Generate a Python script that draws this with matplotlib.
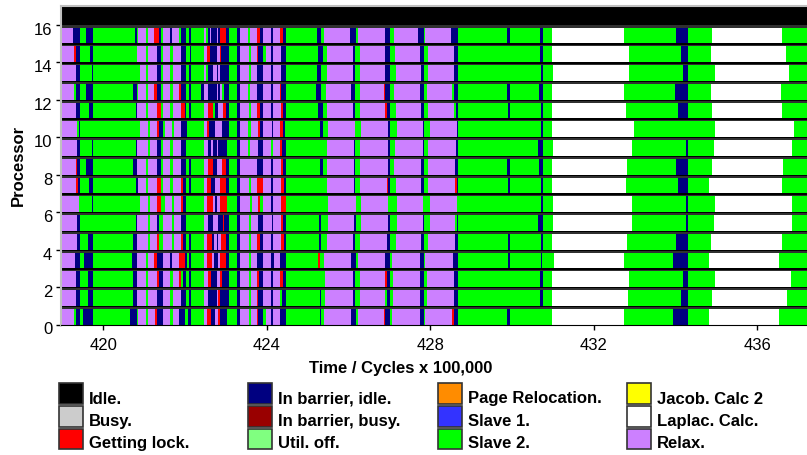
import matplotlib
matplotlib.use('Agg')
import matplotlib.pyplot as plt
import matplotlib.transforms as mtransforms
from matplotlib.patches import Rectangle

plt.rcParams['font.family'] = ['Liberation Sans', 'DejaVu Sans']

# time window (cycles x 100,000)
X_START = 418.95
X_END = 437.22

# state codes: R relax, B in barrier idle, S slave 2, L getting lock, W laplac calc, I idle
# each processor row = list of (start time, state); a state lasts until the next start
proc_15 = [(418.95,'R'),(419.25,'B'),(419.43,'S'),(419.57,'B'),(419.75,'S'),(420.78,'B'),(420.83,'S'),(420.85,'R'),(421.05,'S'),(421.10,'R'),(421.25,'L'),(421.37,'B'),(421.42,'S'),(421.45,'R'),(421.62,'B'),(421.67,'R'),(421.86,'S'),(421.89,'B'),(422.03,'S'),(422.10,'B'),(422.15,'S'),(422.47,'R'),(422.52,'S'),(422.57,'B'),(422.62,'R'),(422.64,'B'),(422.77,'R'),(422.81,'B'),(422.86,'L'),(423.00,'B'),(423.08,'S'),(423.27,'B'),(423.35,'R'),(423.54,'S'),(423.59,'R'),(423.77,'L'),(423.84,'B'),(423.91,'R'),(424.10,'B'),(424.15,'R'),(424.32,'L'),(424.39,'B'),(424.47,'S'),(425.23,'B'),(425.33,'S'),(425.41,'R'),(426.04,'B'),(426.19,'S'),(426.24,'R'),(426.88,'B'),(427.02,'S'),(427.10,'R'),(427.70,'B'),(427.85,'S'),(427.87,'R'),(428.51,'B'),(428.69,'S'),(429.88,'B'),(429.95,'S'),(430.69,'B'),(430.76,'S'),(430.98,'W'),(432.75,'S'),(434.02,'B'),(434.31,'S'),(434.89,'W'),(436.62,'S')]
proc_14 = [(418.95,'R'),(419.28,'L'),(419.33,'B'),(419.43,'S'),(419.67,'B'),(419.75,'S'),(420.83,'R'),(421.05,'S'),(421.10,'R'),(421.30,'B'),(421.42,'S'),(421.45,'R'),(421.64,'S'),(421.70,'R'),(421.89,'B'),(422.03,'S'),(422.12,'B'),(422.15,'S'),(422.47,'R'),(422.54,'L'),(422.62,'B'),(422.77,'R'),(422.86,'L'),(422.89,'B'),(423.08,'S'),(423.27,'B'),(423.35,'R'),(423.56,'S'),(423.61,'R'),(423.77,'L'),(423.79,'B'),(423.91,'S'),(423.99,'R'),(424.10,'B'),(424.15,'R'),(424.35,'B'),(424.47,'S'),(425.26,'B'),(425.38,'S'),(425.48,'R'),(426.11,'B'),(426.16,'S'),(426.28,'R'),(426.90,'B'),(427.02,'S'),(427.14,'R'),(427.75,'B'),(427.85,'S'),(427.95,'R'),(428.59,'B'),(428.69,'S'),(430.69,'B'),(430.76,'S'),(430.98,'W'),(432.87,'S'),(434.14,'B'),(434.31,'S'),(434.87,'W'),(436.71,'S')]
proc_13 = [(418.95,'R'),(419.33,'B'),(419.43,'S'),(419.72,'B'),(419.75,'S'),(420.90,'R'),(421.05,'S'),(421.10,'R'),(421.30,'B'),(421.42,'S'),(421.45,'R'),(421.64,'S'),(421.70,'R'),(421.89,'B'),(422.03,'S'),(422.10,'B'),(422.15,'S'),(422.47,'R'),(422.52,'S'),(422.57,'B'),(422.69,'R'),(422.77,'B'),(422.81,'R'),(422.86,'B'),(423.08,'S'),(423.27,'B'),(423.35,'R'),(423.56,'S'),(423.61,'R'),(423.77,'B'),(423.91,'R'),(424.10,'B'),(424.15,'R'),(424.35,'B'),(424.47,'S'),(425.23,'B'),(425.33,'S'),(425.48,'R'),(426.11,'B'),(426.16,'S'),(426.28,'R'),(426.90,'B'),(427.02,'S'),(427.17,'R'),(427.77,'B'),(427.85,'S'),(427.95,'R'),(428.59,'B'),(428.69,'S'),(430.71,'B'),(430.76,'S'),(431.01,'W'),(432.87,'S'),(434.18,'B'),(434.31,'S'),(434.96,'W'),(436.79,'S')]
proc_12 = [(418.95,'R'),(419.28,'S'),(419.33,'B'),(419.43,'S'),(419.57,'B'),(419.75,'S'),(420.73,'B'),(420.83,'S'),(420.85,'R'),(421.05,'S'),(421.10,'R'),(421.25,'L'),(421.30,'B'),(421.42,'S'),(421.45,'R'),(421.64,'S'),(421.70,'R'),(421.86,'L'),(421.89,'B'),(422.03,'S'),(422.10,'B'),(422.15,'S'),(422.39,'B'),(422.47,'R'),(422.57,'B'),(422.77,'R'),(422.81,'B'),(422.86,'R'),(422.91,'S'),(422.96,'B'),(423.08,'S'),(423.27,'B'),(423.35,'R'),(423.54,'S'),(423.59,'R'),(423.77,'B'),(423.91,'R'),(424.10,'B'),(424.15,'R'),(424.32,'L'),(424.35,'B'),(424.47,'S'),(425.21,'B'),(425.33,'S'),(425.46,'R'),(426.06,'B'),(426.16,'S'),(426.28,'R'),(426.87,'L'),(426.90,'B'),(427.02,'S'),(427.12,'R'),(427.75,'B'),(427.85,'S'),(427.92,'R'),(428.54,'S'),(428.59,'B'),(428.69,'S'),(429.88,'B'),(429.95,'S'),(430.66,'B'),(430.76,'S'),(430.98,'W'),(432.75,'S'),(433.99,'B'),(434.31,'S'),(434.87,'W'),(436.59,'S')]
proc_11 = [(418.95,'R'),(419.33,'B'),(419.43,'S'),(419.65,'B'),(419.75,'S'),(420.81,'B'),(420.83,'R'),(421.05,'S'),(421.10,'R'),(421.30,'L'),(421.40,'B'),(421.42,'S'),(421.45,'R'),(421.64,'S'),(421.70,'R'),(421.89,'L'),(421.99,'B'),(422.03,'S'),(422.10,'B'),(422.15,'S'),(422.47,'R'),(422.57,'L'),(422.69,'S'),(422.74,'B'),(422.81,'R'),(422.93,'L'),(423.00,'B'),(423.08,'S'),(423.27,'B'),(423.35,'R'),(423.56,'S'),(423.61,'R'),(423.77,'L'),(423.84,'B'),(423.91,'R'),(424.10,'B'),(424.15,'R'),(424.35,'L'),(424.40,'B'),(424.47,'S'),(425.26,'B'),(425.38,'S'),(425.48,'R'),(426.11,'B'),(426.16,'S'),(426.28,'R'),(426.90,'L'),(426.95,'B'),(427.02,'S'),(427.17,'R'),(427.77,'B'),(427.85,'S'),(427.95,'R'),(428.59,'S'),(428.64,'B'),(428.69,'S'),(429.91,'B'),(429.95,'S'),(430.71,'B'),(430.76,'S'),(430.98,'W'),(432.79,'S'),(434.06,'B'),(434.31,'S'),(434.89,'W'),(436.62,'S')]
proc_10 = [(418.95,'R'),(419.35,'S'),(419.40,'B'),(419.43,'S'),(420.90,'R'),(421.08,'S'),(421.15,'R'),(421.30,'L'),(421.37,'B'),(421.45,'S'),(421.50,'R'),(421.67,'S'),(421.72,'R'),(421.91,'B'),(422.05,'S'),(422.47,'R'),(422.54,'L'),(422.59,'B'),(422.74,'R'),(422.91,'B'),(423.08,'S'),(423.27,'B'),(423.35,'R'),(423.54,'S'),(423.61,'R'),(423.79,'L'),(423.84,'B'),(423.91,'R'),(424.12,'B'),(424.15,'R'),(424.32,'L'),(424.40,'B'),(424.44,'S'),(425.31,'B'),(425.38,'S'),(425.50,'R'),(426.16,'S'),(426.31,'R'),(426.97,'B'),(427.02,'S'),(427.19,'R'),(427.82,'B'),(427.85,'S'),(428.00,'R'),(428.66,'B'),(428.69,'S'),(430.71,'B'),(430.76,'S'),(430.98,'W'),(432.99,'S'),(434.96,'W'),(436.90,'S')]
proc_9 = [(418.95,'R'),(419.35,'B'),(419.43,'S'),(419.72,'B'),(419.75,'S'),(420.81,'B'),(420.83,'R'),(421.08,'S'),(421.15,'R'),(421.30,'B'),(421.42,'S'),(421.45,'R'),(421.64,'S'),(421.70,'R'),(421.89,'B'),(422.03,'S'),(422.47,'R'),(422.57,'B'),(422.64,'R'),(422.69,'B'),(422.77,'R'),(422.81,'B'),(423.03,'S'),(423.27,'B'),(423.35,'R'),(423.54,'S'),(423.59,'R'),(423.79,'B'),(423.91,'R'),(424.10,'S'),(424.15,'R'),(424.32,'L'),(424.37,'B'),(424.47,'S'),(425.48,'R'),(426.13,'B'),(426.16,'S'),(426.28,'R'),(426.97,'B'),(427.02,'S'),(427.14,'R'),(427.82,'B'),(427.85,'S'),(427.95,'R'),(428.64,'B'),(428.69,'S'),(430.64,'B'),(430.76,'S'),(431.01,'W'),(432.94,'S'),(434.26,'B'),(434.31,'S'),(434.94,'W'),(436.86,'S')]
proc_8 = [(418.95,'R'),(419.33,'L'),(419.35,'B'),(419.43,'S'),(419.57,'B'),(419.75,'S'),(420.73,'B'),(420.83,'R'),(421.05,'S'),(421.10,'R'),(421.30,'B'),(421.42,'S'),(421.45,'R'),(421.64,'S'),(421.70,'R'),(421.89,'B'),(422.03,'S'),(422.10,'B'),(422.15,'S'),(422.47,'R'),(422.57,'L'),(422.69,'B'),(422.77,'R'),(422.91,'L'),(423.00,'B'),(423.08,'S'),(423.27,'B'),(423.35,'R'),(423.77,'B'),(423.91,'R'),(424.10,'B'),(424.15,'R'),(424.35,'L'),(424.40,'B'),(424.47,'S'),(425.31,'B'),(425.38,'S'),(425.48,'R'),(426.13,'B'),(426.16,'S'),(426.28,'R'),(426.97,'B'),(427.02,'S'),(427.12,'R'),(427.77,'B'),(427.85,'S'),(427.95,'R'),(428.61,'B'),(428.69,'S'),(429.88,'B'),(429.95,'S'),(430.66,'B'),(430.76,'S'),(430.98,'W'),(432.81,'S'),(434.02,'B'),(434.31,'S'),(434.89,'W'),(436.64,'S')]
proc_7 = [(418.95,'R'),(419.33,'L'),(419.38,'B'),(419.43,'S'),(419.65,'B'),(419.75,'S'),(420.81,'B'),(420.85,'R'),(421.05,'S'),(421.10,'R'),(421.30,'L'),(421.40,'B'),(421.42,'S'),(421.45,'R'),(421.64,'S'),(421.70,'R'),(421.89,'L'),(421.96,'B'),(422.03,'S'),(422.10,'B'),(422.15,'S'),(422.47,'R'),(422.54,'L'),(422.64,'B'),(422.74,'R'),(422.86,'L'),(423.00,'B'),(423.08,'S'),(423.27,'B'),(423.35,'R'),(423.56,'S'),(423.61,'R'),(423.77,'L'),(423.91,'R'),(424.10,'B'),(424.15,'R'),(424.35,'L'),(424.42,'B'),(424.47,'S'),(425.48,'R'),(426.13,'B'),(426.16,'S'),(426.28,'R'),(426.95,'L'),(426.97,'B'),(427.02,'S'),(427.17,'R'),(427.77,'B'),(427.85,'S'),(427.95,'R'),(428.61,'L'),(428.66,'B'),(428.69,'S'),(429.91,'B'),(429.95,'S'),(430.71,'B'),(430.76,'S'),(430.98,'W'),(432.79,'S'),(434.06,'B'),(434.31,'S'),(434.82,'W'),(436.62,'S')]
proc_6 = [(418.95,'R'),(419.40,'S'),(419.72,'B'),(419.75,'S'),(420.90,'R'),(421.08,'S'),(421.15,'R'),(421.30,'L'),(421.40,'S'),(421.50,'R'),(421.67,'S'),(421.72,'R'),(421.89,'L'),(421.96,'B'),(422.03,'S'),(422.47,'R'),(422.54,'L'),(422.69,'R'),(422.74,'B'),(422.77,'R'),(422.86,'L'),(423.03,'S'),(423.27,'B'),(423.35,'R'),(423.59,'S'),(423.64,'R'),(423.79,'L'),(423.84,'S'),(423.91,'R'),(424.10,'B'),(424.15,'R'),(424.35,'L'),(424.47,'S'),(425.50,'R'),(426.18,'S'),(426.31,'R'),(426.97,'S'),(427.19,'R'),(427.82,'S'),(428.00,'R'),(428.66,'S'),(430.71,'B'),(430.76,'S'),(431.01,'W'),(432.94,'S'),(434.26,'B'),(434.31,'S'),(434.96,'W'),(436.86,'S')]
proc_5 = [(418.95,'R'),(419.35,'B'),(419.43,'S'),(420.81,'B'),(420.83,'R'),(421.08,'S'),(421.15,'R'),(421.30,'B'),(421.37,'S'),(421.45,'R'),(421.67,'S'),(421.72,'R'),(421.91,'B'),(422.03,'S'),(422.47,'R'),(422.57,'B'),(422.69,'R'),(422.81,'B'),(422.93,'L'),(422.96,'B'),(423.08,'S'),(423.27,'B'),(423.35,'R'),(423.56,'S'),(423.61,'R'),(423.79,'B'),(423.91,'R'),(424.12,'B'),(424.15,'R'),(424.35,'L'),(424.40,'B'),(424.47,'S'),(425.28,'B'),(425.33,'S'),(425.50,'R'),(426.13,'B'),(426.18,'S'),(426.31,'R'),(426.97,'B'),(427.02,'S'),(427.19,'R'),(427.82,'B'),(427.85,'S'),(428.00,'R'),(428.61,'S'),(428.66,'B'),(428.69,'S'),(430.64,'B'),(430.76,'S'),(431.01,'W'),(432.94,'S'),(434.26,'B'),(434.31,'S'),(434.94,'W'),(436.86,'S')]
proc_4 = [(418.95,'R'),(419.35,'B'),(419.43,'S'),(419.62,'B'),(419.75,'S'),(420.73,'B'),(420.83,'R'),(421.08,'S'),(421.15,'R'),(421.30,'L'),(421.37,'S'),(421.45,'R'),(421.67,'S'),(421.72,'R'),(421.89,'L'),(421.96,'B'),(422.03,'S'),(422.10,'B'),(422.15,'S'),(422.47,'R'),(422.54,'L'),(422.66,'B'),(422.71,'R'),(422.77,'B'),(422.81,'R'),(422.89,'L'),(423.00,'B'),(423.08,'S'),(423.27,'B'),(423.35,'R'),(423.56,'S'),(423.61,'R'),(423.77,'L'),(423.84,'B'),(423.91,'R'),(424.10,'B'),(424.15,'R'),(424.35,'L'),(424.42,'B'),(424.47,'S'),(425.28,'B'),(425.33,'S'),(425.48,'R'),(426.11,'B'),(426.16,'S'),(426.28,'R'),(426.95,'B'),(427.02,'S'),(427.17,'R'),(427.77,'B'),(427.85,'S'),(427.95,'R'),(428.61,'B'),(428.69,'S'),(429.91,'B'),(429.95,'S'),(430.71,'B'),(430.76,'S'),(430.98,'W'),(432.81,'S'),(434.02,'B'),(434.31,'S'),(434.87,'W'),(436.62,'S')]
proc_3 = [(418.95,'R'),(419.30,'B'),(419.43,'S'),(419.52,'B'),(419.75,'S'),(420.71,'B'),(420.83,'R'),(421.05,'S'),(421.10,'R'),(421.25,'L'),(421.30,'B'),(421.45,'R'),(421.64,'B'),(421.67,'R'),(421.86,'L'),(422.00,'B'),(422.05,'S'),(422.10,'B'),(422.15,'S'),(422.47,'R'),(422.54,'L'),(422.66,'R'),(422.71,'B'),(422.81,'R'),(422.86,'L'),(423.00,'B'),(423.08,'S'),(423.27,'B'),(423.35,'R'),(423.56,'S'),(423.61,'R'),(423.77,'B'),(423.91,'R'),(424.10,'B'),(424.17,'R'),(424.32,'B'),(424.47,'S'),(425.26,'L'),(425.31,'S'),(425.41,'R'),(426.06,'B'),(426.18,'S'),(426.23,'R'),(426.90,'B'),(427.02,'S'),(427.07,'R'),(427.75,'B'),(427.85,'S'),(427.87,'R'),(428.56,'B'),(428.69,'S'),(429.91,'B'),(429.95,'S'),(430.71,'B'),(430.74,'S'),(431.03,'W'),(432.75,'S'),(433.94,'B'),(434.31,'S'),(434.82,'W'),(436.54,'S')]
proc_2 = [(418.95,'R'),(419.33,'B'),(419.43,'S'),(419.62,'B'),(419.75,'S'),(420.73,'B'),(420.83,'R'),(421.05,'S'),(421.10,'R'),(421.30,'L'),(421.37,'B'),(421.45,'R'),(421.64,'S'),(421.70,'R'),(421.86,'L'),(421.91,'S'),(421.96,'B'),(422.03,'S'),(422.10,'B'),(422.15,'S'),(422.47,'R'),(422.57,'L'),(422.64,'B'),(422.77,'R'),(422.86,'L'),(422.91,'B'),(423.08,'S'),(423.27,'B'),(423.35,'R'),(423.56,'S'),(423.61,'R'),(423.77,'L'),(423.82,'B'),(423.91,'R'),(424.10,'B'),(424.15,'R'),(424.32,'L'),(424.40,'B'),(424.47,'S'),(425.43,'R'),(426.11,'B'),(426.16,'S'),(426.28,'R'),(426.90,'L'),(426.95,'B'),(427.02,'S'),(427.09,'R'),(427.75,'B'),(427.85,'S'),(427.92,'R'),(428.59,'B'),(428.69,'S'),(430.69,'B'),(430.76,'S'),(430.98,'W'),(432.87,'S'),(434.18,'B'),(434.31,'S'),(434.96,'W'),(436.84,'S')]
proc_1 = [(418.95,'R'),(419.33,'B'),(419.43,'S'),(419.62,'B'),(419.75,'S'),(420.73,'B'),(420.83,'R'),(421.05,'S'),(421.10,'R'),(421.30,'B'),(421.45,'R'),(421.64,'S'),(421.70,'R'),(421.89,'B'),(422.03,'S'),(422.10,'B'),(422.15,'S'),(422.47,'R'),(422.57,'B'),(422.77,'R'),(422.81,'L'),(422.86,'B'),(423.08,'S'),(423.27,'B'),(423.35,'R'),(423.56,'S'),(423.61,'R'),(423.77,'L'),(423.79,'B'),(423.91,'R'),(424.10,'B'),(424.15,'R'),(424.32,'S'),(424.37,'B'),(424.47,'S'),(425.31,'B'),(425.33,'S'),(425.43,'R'),(426.11,'B'),(426.16,'S'),(426.28,'R'),(426.90,'S'),(426.95,'B'),(427.02,'S'),(427.09,'R'),(427.75,'B'),(427.85,'S'),(427.92,'R'),(428.59,'B'),(428.69,'S'),(430.69,'B'),(430.76,'S'),(430.98,'W'),(432.84,'S'),(434.14,'B'),(434.31,'S'),(434.89,'W'),(436.73,'S')]
proc_0 = [(418.95,'R'),(419.28,'S'),(419.33,'B'),(419.43,'S'),(419.50,'B'),(419.75,'S'),(420.66,'B'),(420.83,'S'),(420.85,'R'),(421.05,'S'),(421.10,'R'),(421.27,'L'),(421.32,'B'),(421.45,'R'),(421.64,'S'),(421.70,'R'),(421.86,'B'),(422.00,'S'),(422.07,'B'),(422.15,'S'),(422.47,'R'),(422.54,'L'),(422.64,'B'),(422.74,'R'),(422.81,'L'),(422.86,'B'),(423.03,'S'),(423.27,'B'),(423.35,'R'),(423.56,'S'),(423.61,'R'),(423.77,'L'),(423.79,'B'),(423.91,'S'),(423.99,'R'),(424.10,'B'),(424.15,'R'),(424.32,'B'),(424.47,'S'),(425.31,'B'),(425.33,'S'),(425.41,'R'),(426.06,'B'),(426.18,'S'),(426.23,'R'),(426.87,'L'),(426.90,'B'),(427.02,'S'),(427.07,'R'),(427.75,'B'),(427.85,'S'),(427.87,'R'),(428.54,'L'),(428.59,'B'),(428.69,'S'),(429.88,'B'),(429.95,'S'),(430.98,'W'),(432.75,'S'),(433.94,'B'),(434.31,'S'),(434.82,'W'),(436.54,'S')]
proc_16 = [(418.95,'I')]

processors = [proc_0, proc_1, proc_2, proc_3, proc_4, proc_5, proc_6, proc_7,
              proc_8, proc_9, proc_10, proc_11, proc_12, proc_13, proc_14, proc_15]

STATE_COLOURS = {'I': '#000000', 'B': '#000080', 'L': '#ff0000',
                 'S': '#00ff00', 'W': '#ffffff', 'R': '#cc80ff'}

# legend, column by column
legend_labels = ['Idle.', 'Busy.', 'Getting lock.',
                 'In barrier, idle.', 'In barrier, busy.', 'Util. off.',
                 'Page Relocation.', 'Slave 1.', 'Slave 2.',
                 'Jacob. Calc 2', 'Laplac. Calc.', 'Relax.']
legend_colours = ['#000000', '#cccccc', '#ff0000',
                  '#000080', '#990000', '#80ff80',
                  '#ff8c00', '#3333ff', '#00ff00',
                  '#ffff00', '#ffffff', '#cc80ff']

W, H = 807, 455
fig = plt.figure(figsize=(W / 100, H / 100), dpi=100)
ax = fig.add_axes([60.5 / W, 1 - 324.5 / H, (W - 60.5) / W, (324.5 - 6) / H])
ax.set_facecolor('#303030')

BAR_H = 0.84
for proc, segs in enumerate(processors):
    starts = [s for s, _ in segs]
    ends = starts[1:] + [X_END]
    widths = [e - s for s, e in zip(starts, ends)]
    cols = [STATE_COLOURS[c] for _, c in segs]
    # black shadow line under each row
    ax.barh(proc - 0.07, X_END - X_START, left=X_START, height=0.07,
            align='edge', color='black', linewidth=0)
    ax.barh(proc, widths, left=starts, height=BAR_H, align='edge',
            color=cols, linewidth=0)

# processor 16 stays idle
ax.barh(16, X_END - proc_16[0][0], left=proc_16[0][0], height=1.0,
        align='edge', color=STATE_COLOURS[proc_16[0][1]], linewidth=0)

ax.set_xlim(X_START, X_END)
ax.set_ylim(0, 17)
ax.set_xticks([420, 424, 428, 432, 436])
ax.set_yticks(range(0, 17, 2))
ax.tick_params(axis='both', direction='out', length=3.5, width=1,
               labelsize=12, colors='black')
ax.tick_params(axis='x', pad=6)
ax.tick_params(axis='y', pad=2.5)

ax.spines['right'].set_visible(False)
ax.spines['top'].set_color('#c0c0c0')
ax.spines['top'].set_linewidth(1.5)
ax.spines['left'].set_color('#c0c0c0')
ax.spines['left'].set_linewidth(1.5)
ax.spines['bottom'].set_color('black')

# y labels sit a little below their ticks in the original
offset = mtransforms.ScaledTranslation(0, -4 / 100, fig.dpi_scale_trans)
for lab in ax.get_yticklabels():
    lab.set_transform(lab.get_transform() + offset)

fig.text(401 / W, 1 - 369 / H, 'Time / Cycles x 100,000', ha='center',
         va='center', fontsize=12, fontweight='bold')
fig.text(18 / W, 1 - 165 / H, 'Processor', ha='center', va='center',
         rotation=90, fontsize=12, fontweight='bold')

# legend drawn by hand: 4 columns x 3 rows
col_x = [59, 248, 438, 627]
row_top = [383.3, 406, 428.7]
row_base = [403.5, 425.8, 448]
for k, (lab, colr) in enumerate(zip(legend_labels, legend_colours)):
    c, r = divmod(k, 3)
    x0 = col_x[c]
    y0 = row_top[r]
    fig.add_artist(Rectangle((x0 / W, 1 - (y0 + 20.5) / H), 24 / W, 20.5 / H,
                             transform=fig.transFigure, facecolor=colr,
                             edgecolor='#333333', linewidth=1.2))
    fig.text((x0 + 30) / W, 1 - row_base[r] / H, lab, ha='left',
             va='baseline', fontsize=12, fontweight='bold')

fig.savefig('out.png', dpi=100)
